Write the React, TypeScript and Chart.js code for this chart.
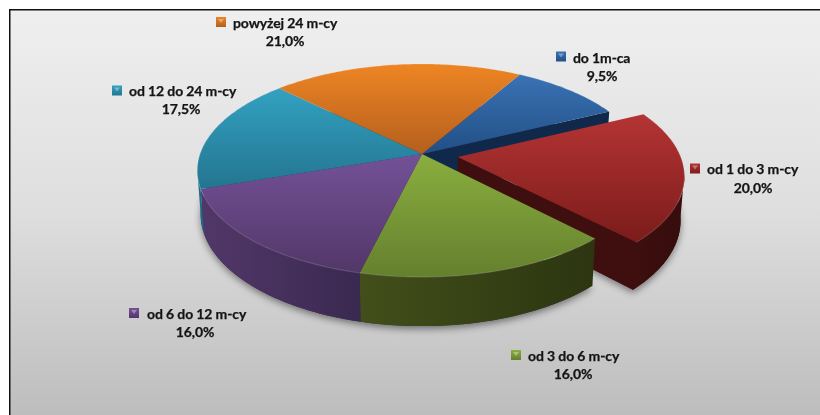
import React, { useEffect, useRef } from "react";
import { Chart, registerables } from "chart.js";

Chart.register(...registerables);

const categories = ["do 1m-ca", "od 1 do 3 m-cy", "od 3 do 6 m-cy", "od 6 do 12 m-cy", "od 12 do 24 m-cy", "powyżej 24 m-cy"];
const values = [9.5, 20.0, 16.0, 16.0, 17.5, 21.0];
const percentLabels = ["9,5%", "20,0%", "16,0%", "16,0%", "17,5%", "21,0%"];
const colorsLight = ["#3a72b4", "#b43434", "#8aae3f", "#745198", "#33a1c1", "#ee8523"];
const colorsDark = ["#214f85", "#7b1c1a", "#65802e", "#523768", "#237590", "#b45f1e"];
const wallLeft = ["#10294a", "#3e0f0f", "#424f1a", "#523769", "#1b6c88", "#8a4a14"];
const wallRight = ["#10294a", "#360c0c", "#2c3510", "#3a2950", "#1b6c88", "#8a4a14"];
const explodedIndex = 1;

// label layout: marker left / centre, text left / centre, percent centre
const labelLayout = [
  { mx: 556, my: 56.5, tx: 573, ty: 58, px: 602, py: 76 },
  { mx: 690, my: 168.5, tx: 707, ty: 169, px: 753, py: 188 },
  { mx: 511, my: 355, tx: 528, ty: 356, px: 573, py: 374 },
  { mx: 129, my: 313, tx: 147, ty: 314, px: 195, py: 332 },
  { mx: 112, my: 90.5, tx: 129, ty: 91, px: 181, py: 109 },
  { mx: 216, my: 22, tx: 233, ty: 23, px: 285, py: 41 },
];

const G = { cx: 422, cy: 154, rx: 222, ry: 104, p: 0.155, depth: 43, shrink: 0.015, explode: 0.163 };

type Pt = { x: number; y: number };

function project(X: number, Y: number, z: number): Pt {
  const s = 1 - G.shrink * z;
  const w = 1 - G.p * Y;
  return { x: G.cx + (s * G.rx * X) / w, y: G.cy + (s * G.ry * Y + G.depth * z) / w };
}

function arcPts(a: number, b: number, z: number, ox: number, oy: number): Pt[] {
  const pts: Pt[] = [];
  const n = Math.max(2, Math.ceil(Math.abs(b - a) / (Math.PI / 180)));
  for (let i = 0; i <= n; i++) {
    const t = a + ((b - a) * i) / n;
    pts.push(project(Math.sin(t) + ox, -Math.cos(t) + oy, z));
  }
  return pts;
}

function tracePoly(ctx: CanvasRenderingContext2D, pts: Pt[]) {
  ctx.beginPath();
  pts.forEach((p, i) => (i ? ctx.lineTo(p.x, p.y) : ctx.moveTo(p.x, p.y)));
  ctx.closePath();
}

function hGrad(ctx: CanvasRenderingContext2D, pts: Pt[], c0: string, c1: string) {
  const xs = pts.map((p) => p.x);
  const g = ctx.createLinearGradient(Math.min(...xs), 0, Math.max(...xs), 0);
  g.addColorStop(0, c0);
  g.addColorStop(1, c1);
  return g;
}

const pie3d = {
  id: "pie3d",
  beforeDraw(chart: any) {
    const ctx: CanvasRenderingContext2D = chart.ctx;
    ctx.save();
    ctx.fillStyle = "#ffffff";
    ctx.fillRect(0, 0, chart.width, chart.height);
    const g = ctx.createLinearGradient(0, 10, 0, 415);
    g.addColorStop(0, "#efefef");
    g.addColorStop(0.5, "#dedede");
    g.addColorStop(1, "#bdbdbd");
    ctx.fillStyle = g;
    ctx.fillRect(10, 10, chart.width - 10, chart.height - 10);
    ctx.fillStyle = "#111111";
    ctx.fillRect(9, 9, chart.width - 9, 1.5);
    ctx.fillRect(9, 9, 1.5, chart.height - 9);
    ctx.restore();
  },
  beforeDatasetsDraw(chart: any) {
    const ctx: CanvasRenderingContext2D = chart.ctx;
    const arcs = chart.getDatasetMeta(0).data as any[];
    const slices = arcs.map((el, i) => {
      const a = el.startAngle + Math.PI / 2;
      const b = el.endAngle + Math.PI / 2;
      const mid = (a + b) / 2;
      const e = i === explodedIndex ? G.explode : 0;
      return { i, a, b, ox: Math.sin(mid) * e, oy: -Math.cos(mid) * e };
    });
    const norm = (t: number) => ((t % (2 * Math.PI)) + 2 * Math.PI) % (2 * Math.PI);
    const visLo = (98.9 * Math.PI) / 180;
    const visHi = (261.1 * Math.PI) / 180;

    const outerWall = (s: any) => {
      const a0 = norm(s.a);
      const b0 = a0 + (s.b - s.a);
      const lo = Math.max(a0, visLo);
      const hi = Math.min(b0, visHi);
      if (hi <= lo) return;
      const top = arcPts(lo, hi, 0, s.ox, s.oy);
      const bot = arcPts(hi, lo, 1, s.ox, s.oy);
      const poly = [...top, ...bot];
      tracePoly(ctx, poly);
      ctx.fillStyle = hGrad(ctx, poly, wallLeft[s.i], wallRight[s.i]);
      ctx.fill();
    };
    const radialWall = (s: any, t: number, color: string) => {
      const rim0 = project(Math.sin(t) + s.ox, -Math.cos(t) + s.oy, 0);
      const rim1 = project(Math.sin(t) + s.ox, -Math.cos(t) + s.oy, 1);
      const ap0 = project(s.ox, s.oy, 0);
      const ap1 = project(s.ox, s.oy, 1);
      tracePoly(ctx, [ap0, rim0, rim1, ap1]);
      ctx.fillStyle = color;
      ctx.fill();
    };
    const top = (s: any) => {
      const rim = arcPts(s.a, s.b, 0, s.ox, s.oy);
      const poly = [project(s.ox, s.oy, 0), ...rim];
      const ys = poly.map((p) => p.y);
      const g = ctx.createLinearGradient(0, Math.min(...ys), 0, Math.max(...ys));
      g.addColorStop(0, colorsLight[s.i]);
      g.addColorStop(1, colorsDark[s.i]);
      tracePoly(ctx, poly);
      ctx.fillStyle = g;
      ctx.fill();
      // soft bevel along the rim
      ctx.beginPath();
      rim.forEach((p, k) => (k ? ctx.lineTo(p.x, p.y) : ctx.moveTo(p.x, p.y)));
      ctx.strokeStyle = "rgba(255,255,255,0.14)";
      ctx.lineWidth = 1.2;
      ctx.stroke();
    };

    ctx.save();
    const ex = slices[explodedIndex];
    // drop shadow under the cake, without the sector that has been pulled out
    const restBot = arcPts(ex.b, ex.a + Math.PI * 2, 1, 0, 0);
    const exBot = arcPts(ex.a, ex.b, 1, ex.ox, ex.oy);
    ctx.save();
    ctx.shadowColor = "rgba(0,0,0,0.45)";
    ctx.shadowBlur = 7;
    ctx.shadowOffsetY = 3;
    ctx.fillStyle = "#3a2950";
    tracePoly(ctx, [project(0, 0, 1), ...restBot]);
    ctx.fill();
    ctx.fillStyle = "#360c0c";
    tracePoly(ctx, [project(ex.ox, ex.oy, 1), ...exBot]);
    ctx.fill();
    ctx.restore();

    // cut face of the slice before the exploded one
    const prev = slices[(explodedIndex + slices.length - 1) % slices.length];
    radialWall(prev, prev.b, wallLeft[prev.i]);

    // exploded slice
    radialWall(ex, ex.b, "#3f0f0f");
    outerWall(ex);
    top(ex);

    // remaining slices
    slices.filter((s) => s.i !== explodedIndex).forEach(outerWall);
    slices.filter((s) => s.i !== explodedIndex).forEach(top);
    ctx.restore();

    // labels
    ctx.save();
    ctx.font = 'bold 14px Lato, "Open Sans", sans-serif';
    (ctx as any).letterSpacing = "-0.12px";
    ctx.textBaseline = "middle";
    ctx.lineWidth = 0.25;
    ctx.strokeStyle = "#141414";
    categories.forEach((c, i) => {
      const L = labelLayout[i];
      const g = ctx.createLinearGradient(0, L.my - 5, 0, L.my + 5);
      g.addColorStop(0, colorsLight[i]);
      g.addColorStop(1, colorsDark[i]);
      ctx.fillStyle = g;
      ctx.fillRect(L.mx, L.my - 5, 10, 10);
      ctx.fillStyle = "rgba(255,255,255,0.35)";
      ctx.beginPath();
      ctx.moveTo(L.mx + 2, L.my - 3);
      ctx.lineTo(L.mx + 8, L.my - 3);
      ctx.lineTo(L.mx + 5, L.my + 1);
      ctx.closePath();
      ctx.fill();
      ctx.fillStyle = "#141414";
      ctx.textAlign = "left";
      ctx.fillText(c, L.tx, L.ty);
      ctx.strokeText(c, L.tx, L.ty);
      ctx.textAlign = "center";
      ctx.fillText(percentLabels[i], L.px, L.py);
      ctx.strokeText(percentLabels[i], L.px, L.py);
    });
    ctx.restore();
    return false;
  },
};

export default function App() {
  const ref = useRef<HTMLCanvasElement>(null);
  useEffect(() => {
    document.body.style.margin = "0";
    const chart = new Chart(ref.current as HTMLCanvasElement, {
      type: "pie",
      data: {
        labels: categories,
        datasets: [{ data: values, backgroundColor: colorsLight, borderWidth: 0 }],
      },
      options: {
        responsive: false,
        animation: false,
        rotation: 30,
        plugins: { legend: { display: false }, tooltip: { enabled: false } },
      },
      plugins: [pie3d],
    } as any);
    return () => chart.destroy();
  }, []);
  return <canvas ref={ref} width={820} height={415} style={{ display: "block" }} />;
}
